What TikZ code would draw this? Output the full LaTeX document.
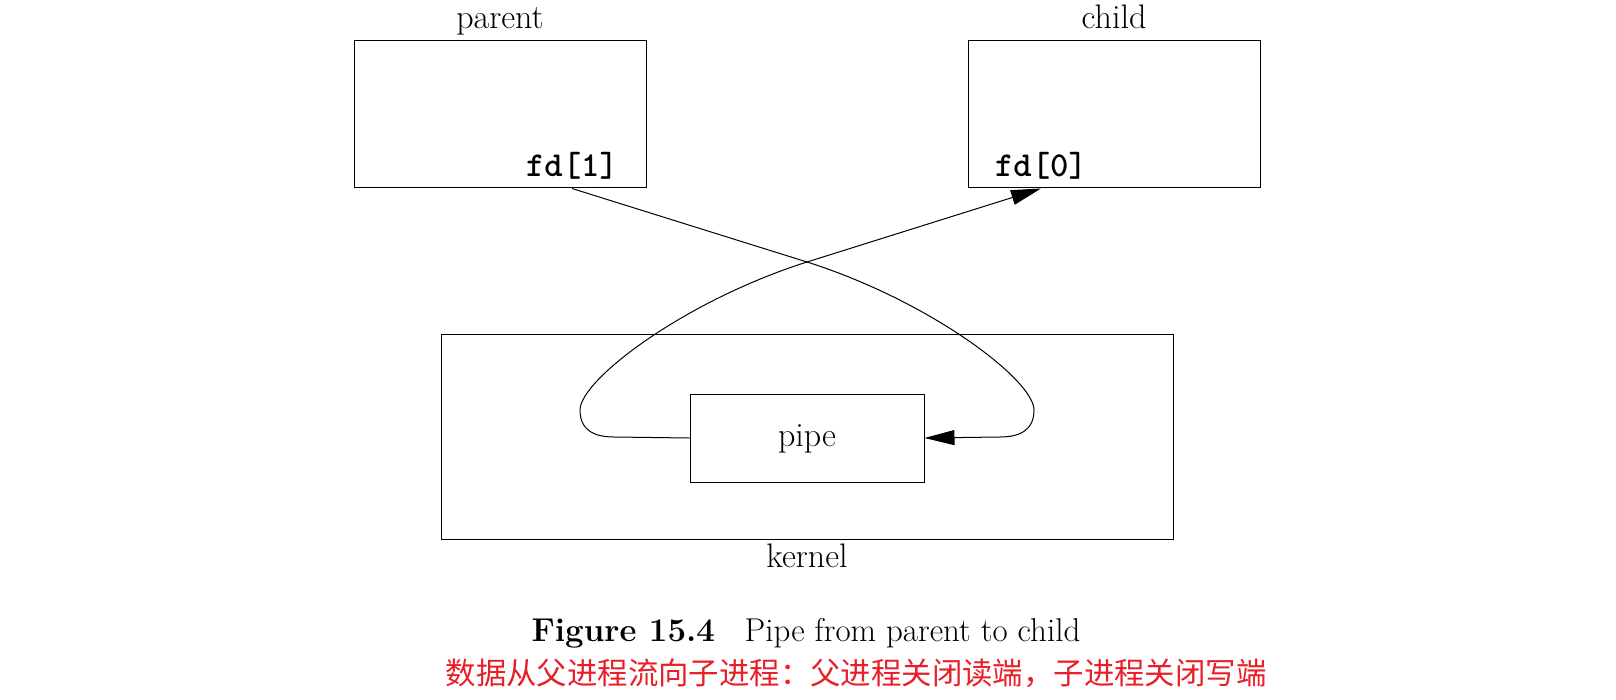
\documentclass[tikz,border=0pt]{standalone}
\usepackage{fontspec}
\newfontfamily\cjkfont{Noto Sans CJK SC}
\usetikzlibrary{positioning,arrows.meta}
\definecolor{notered}{RGB}{232,30,40}

\begin{document}
\begin{tikzpicture}[x=0.5pt, y=-0.5pt, ->, >={Triangle[length=15pt,width=7.5pt]}, line width=0.5pt,
    box/.style={draw, rectangle, inner sep=0pt},
    proc/.style={box, minimum width=146pt, minimum height=73.5pt},
    label/.style={draw=none, anchor=base, font=\fontsize{17}{20}\selectfont},
    fd/.style={draw=none, anchor=base, inner sep=0pt, font=\fontsize{17.5}{20}\selectfont\ttfamily\bfseries}]
    \useasboundingbox (0,0) rectangle (1616,700);

    \node[proc] (parent) at (500,114.5) {};
    \node[proc] (child) at (1114,114.5) {};
    \node[box, minimum width=366pt, minimum height=102.5pt] (kernel) at (807,436.5) {};
    \node[box, minimum width=117pt, minimum height=44pt] (pipe) at (807,438) {};

    \node[label] (parentname) at (500,29) {parent};
    \node[label] (childname) at (1114,29) {child};
    \node[label] (kernelname) at (807,567) {kernel};
    \node[label] (pipename) at (807,446) {pipe};
    \node[fd] (fd1) at (572,177) {fd[1]};
    \node[fd] (fd0) at (1041,177) {fd[0]};

    \coordinate (w) at (fd1 |- parent.south); % write end
    \coordinate (r) at (fd0 |- child.south); % read end

    \draw (w) -- (807,262) .. controls (930,301) and (1034,380) .. (1034,410)
          .. controls (1034,430) and (1020,437) .. (1000,437) -- (pipe.east); % into pipe
    \draw (pipe.west) -- (614,437) .. controls (594,437) and (580,430) .. (580,410)
          .. controls (580,380) and (684,301) .. (807,262) -- (r); % out to child

    \node[label, font=\fontsize{16.5}{19}\selectfont] (caption) at (806,641) {\textbf{Figure 15.4}\hspace{0.9em}Pipe from parent to child};
    \node[label, text=notered, font=\fontsize{15.2}{18}\selectfont\cjkfont] (note) at (856,684) {数据从父进程流向子进程：父进程关闭读端，子进程关闭写端};
\end{tikzpicture}
\end{document}
